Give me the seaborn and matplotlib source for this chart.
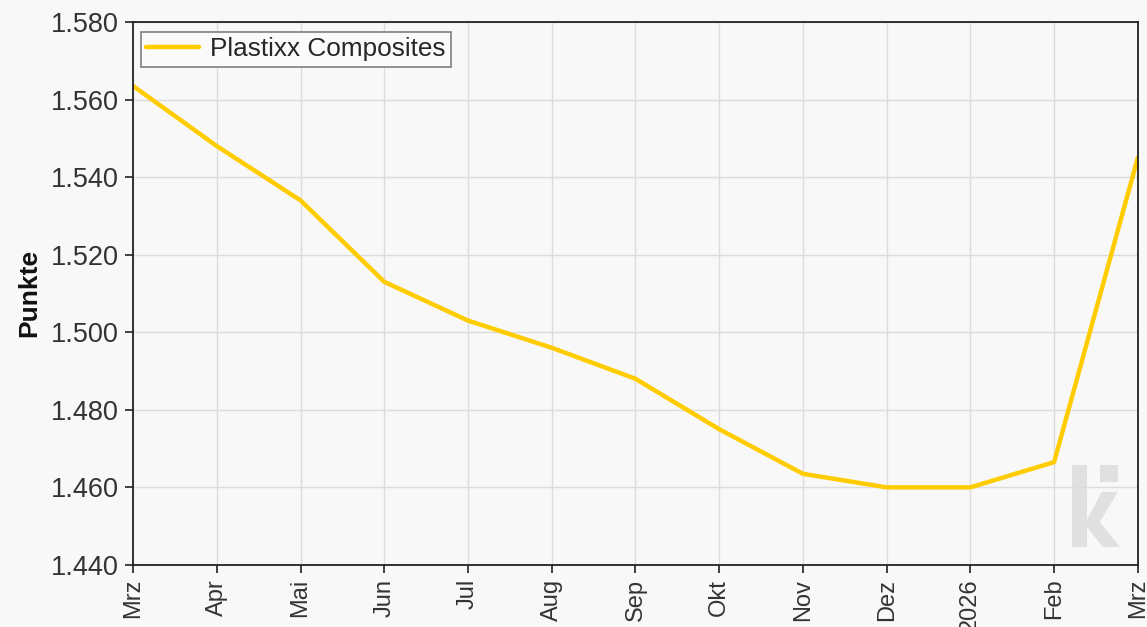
import numpy as np
import pandas as pd
import matplotlib
matplotlib.use("Agg")
import matplotlib.pyplot as plt
import seaborn as sns
from matplotlib.ticker import FuncFormatter, MultipleLocator
from matplotlib.patches import Rectangle, Polygon

months = ["Mrz", "Apr", "Mai", "Jun", "Jul", "Aug", "Sep", "Okt", "Nov", "Dez", "2026", "Feb", "Mrz"]
values = [1563.5, 1548.0, 1534.0, 1513.0, 1503.0, 1496.0, 1488.0, 1475.0, 1463.5, 1460.0, 1460.0, 1466.5, 1545.0]
series_name = "Plastixx Composites"

df = pd.DataFrame({"idx": np.arange(len(months)), "Punkte": values})

sns.set_style("whitegrid")
plt.rcParams["font.family"] = ["Liberation Sans", "DejaVu Sans"]

bg = "#f8f8f8"
fig = plt.figure(figsize=(11.47, 6.27), dpi=100, facecolor=bg)
ax = fig.add_axes([0.116, 0.099, 0.876, 0.866])
ax.set_facecolor(bg)
ax.set_axisbelow(True)

sns.lineplot(data=df, x="idx", y="Punkte", color="#ffcc00", linewidth=3.2,
             label=series_name, ax=ax)

ax.set_xlim(0, len(months) - 1)
ax.set_ylim(1440, 1580)
ax.yaxis.set_major_locator(MultipleLocator(20))
ax.yaxis.set_major_formatter(FuncFormatter(lambda v, p: f"{v:,.0f}".replace(",", ".")))
ax.set_xticks(df["idx"])
ax.set_xticklabels(months, rotation=90)

ax.grid(True, color="#dcdcdc", linewidth=1)
for s in ax.spines.values():
    s.set_color("#222222")
    s.set_linewidth(1.3)

ax.tick_params(axis="both", direction="out", length=6, width=1.2, color="#222222",
               labelcolor="#333333", bottom=True, left=True)
ax.tick_params(axis="y", labelsize=19.5, pad=4)
ax.tick_params(axis="x", labelsize=17, pad=4)

ax.set_xlabel("")
ax.set_ylabel("Punkte", fontsize=19, fontweight="bold", color="#111111", labelpad=7)

leg = ax.legend(loc="upper left", bbox_to_anchor=(0.008, 0.981), fontsize=18.8,
                frameon=True, fancybox=False, edgecolor="#808080", facecolor="#fafafa",
                framealpha=1, handlelength=2.0, handletextpad=0.45, borderpad=0.2,
                borderaxespad=0)
leg.get_frame().set_linewidth(1.2)

# Wasserzeichen (Logo)
wm = "#e0e0e0"
ax.add_patch(Rectangle((0.9343, 0.0331), 0.015, 0.1511, transform=ax.transAxes,
                       color=wm, zorder=0.3, lw=0))
ax.add_patch(Rectangle((0.9622, 0.1529), 0.0179, 0.0313, transform=ax.transAxes,
                       color=wm, zorder=0.3, lw=0))
ax.add_patch(Polygon([(0.9493, 0.0829), (0.9642, 0.1344), (0.9801, 0.1344),
                      (0.9622, 0.0792), (0.9821, 0.0331), (0.9652, 0.0331),
                      (0.9493, 0.0700)], closed=True, transform=ax.transAxes,
                     color=wm, zorder=0.3, lw=0))

fig.savefig("out.png", dpi=100, facecolor=bg)
